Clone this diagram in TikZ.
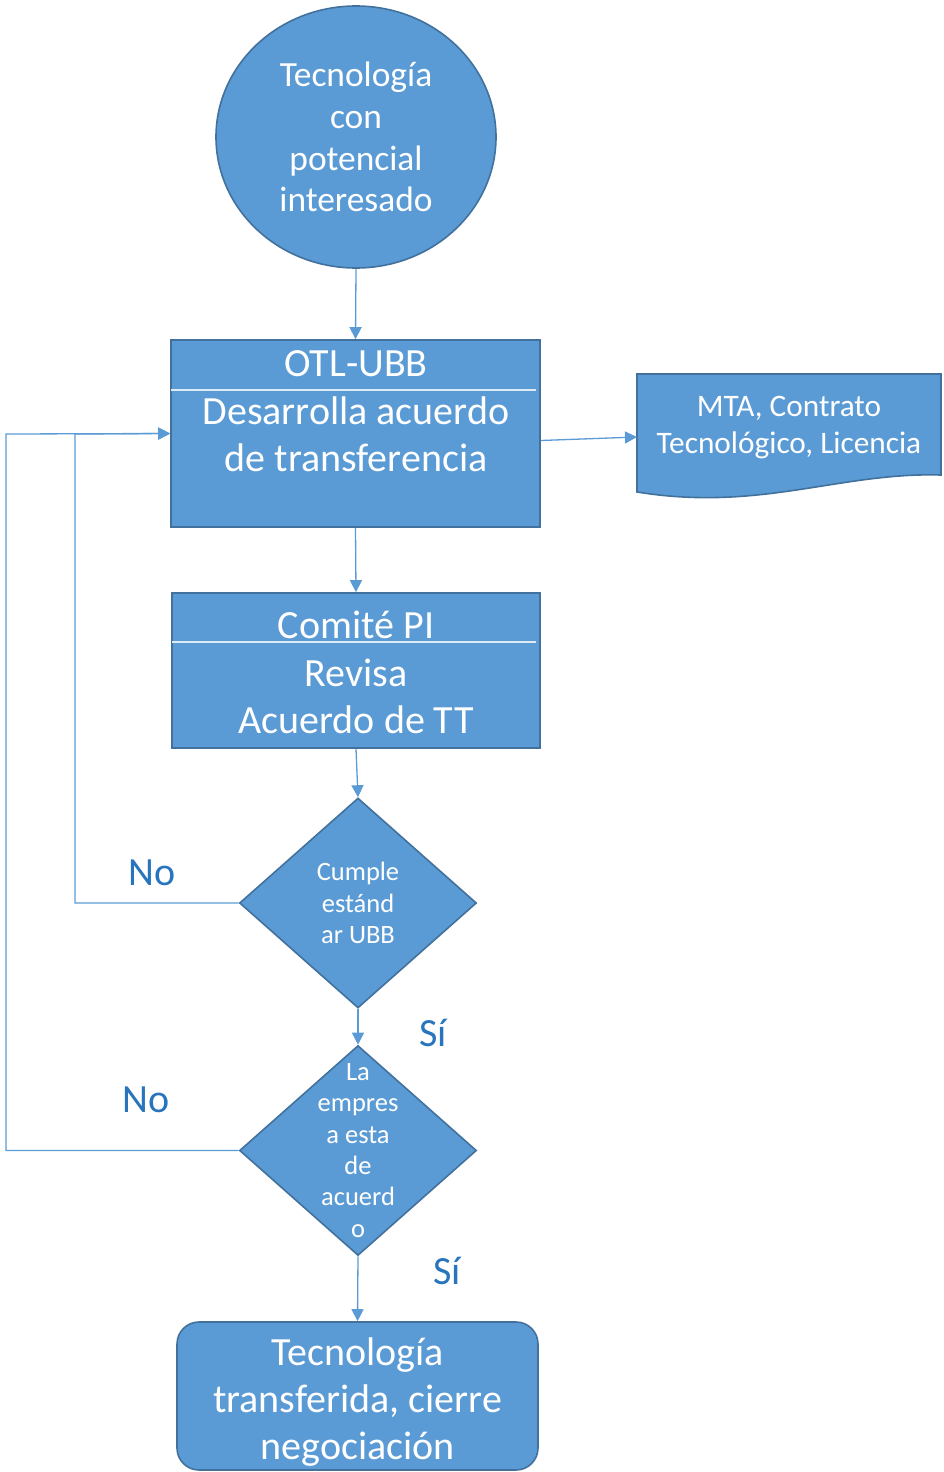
\documentclass[tikz,border=0pt]{standalone}
\usepackage{fontspec}
\setmainfont{Carlito}
\usetikzlibrary{shapes.geometric,arrows.meta}
\definecolor{fillblue}{HTML}{5B9BD5}
\definecolor{edgeblue}{HTML}{41719C}
\definecolor{lblblue}{HTML}{2874BD}
\definecolor{splitline}{HTML}{DEEBF7}
\tikzset{
  proc/.style={draw=edgeblue,fill=fillblue,line width=1.6pt,inner sep=0pt},
  decision/.style={proc,diamond,minimum width=237pt,minimum height=210pt},
  bigtxt/.style={text=white,align=center,font={\fontsize{40}{47}\selectfont}},
  smalltxt/.style={text=white,align=center,font={\fontsize{26.5}{31.3}\selectfont}},
  link/.style={draw=fillblue,line width=1.3pt,-{Triangle[length=12pt,width=12pt]}},
  lbl/.style={text=lblblue,font={\fontsize{40}{44}\selectfont}}
}
\begin{document}
\begin{tikzpicture}[x=1pt,y=-1pt]
\useasboundingbox (0,0) rectangle (943,1472);
\node[proc,ellipse,minimum width=280pt,minimum height=262pt,text=white,align=center,font={\fontsize{35.4}{41.7}\selectfont}] (circ) at (356,137) {Tecnología\\con\\potencial\\interesado};
\node[proc,minimum width=369pt,minimum height=187pt] (otl) at (355.5,433.5) {};
\draw[splitline,line width=1.2pt] (171,390) -- (536,390);
\node[bigtxt] (otltitle) at (356,364) {OTL-UBB};
\node[bigtxt] (otlbody) at (356,434) {Desarrolla acuerdo\\de transferencia};
\draw[proc] (637,374) -- (941,374) -- (941,475) .. controls (840,472) and (760,512) .. (637,492) -- cycle;
\node[text=white,align=center,font={\fontsize{31.3}{37}\selectfont}] (mta) at (789,428) {MTA, Contrato\\Tecnológico, Licencia};
\node[proc,minimum width=368pt,minimum height=155pt] (comite) at (356,670.5) {};
\draw[splitline,line width=1.2pt] (172,642) -- (536,642);
\node[bigtxt] (comitetitle) at (356,625) {Comité PI};
\node[bigtxt] (comitebody) at (356,696) {Revisa\\Acuerdo de TT};
\node[decision,label={[smalltxt]center:Cumple\\estánd\\ar UBB}] (cumple) at (358,903) {};
\node[decision,label={[smalltxt]center:La\\empres\\a esta\\de\\acuerd\\o}] (acuerdo) at (358,1150.5) {};
\node[proc,rounded corners=22pt,minimum width=361pt,minimum height=148pt] (fin) at (357.5,1396) {};
\node[bigtxt] (fintxt) at (357.5,1402) {Tecnología\\transferida, cierre\\negociación};
\coordinate (loopa) at (75,434);
\coordinate (loopb) at (6,434);
\draw[link] (circ.south) -- (otl.north);
\draw[link] ([yshift=-7pt]otl.east) -- ([yshift=-9pt]mta.west -| 637,0);
\draw[link] (otl.south) -- (comite.north);
\draw[link] (comite.south) -- (cumple.north);
\draw[link] (cumple.south) -- (acuerdo.north);
\draw[link] (acuerdo.south) -- (fin.north);
\draw[link] (cumple.west) -| (loopa) -- (otl.west);
\draw[link] (acuerdo.west) -| (loopb) -- (otl.west);
\node[lbl] (no1) at (152,873) {No};
\node[lbl] (si1) at (433,1033) {Sí};
\node[lbl] (no2) at (146,1100) {No};
\node[lbl] (si2) at (447,1271) {Sí};
\end{tikzpicture}
\end{document}
